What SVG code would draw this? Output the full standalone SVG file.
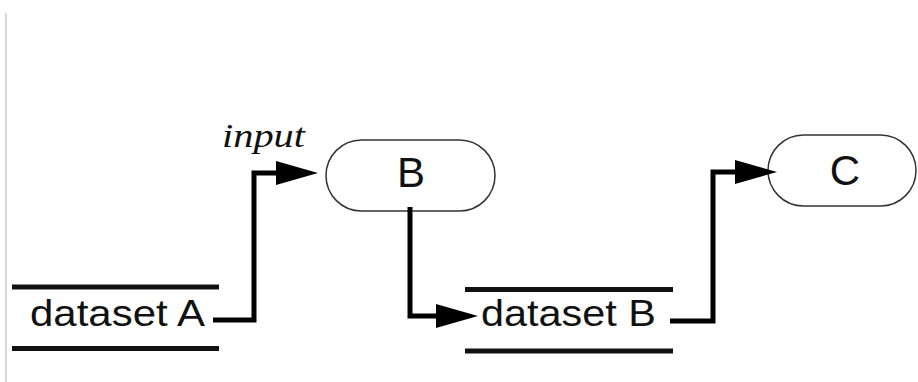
<svg xmlns="http://www.w3.org/2000/svg" width="918" height="382" viewBox="0 0 918 382">
  <style>
    .bar { stroke: #111; stroke-width: 5; fill: none; }
    .pill { fill: #fff; stroke: #333; stroke-width: 1.5; }
    .lbl { font-family: "Liberation Sans", Arial, sans-serif; fill: #111; }
    .conn { stroke: #000; stroke-width: 5; fill: none; stroke-linejoin: miter; }
    .note { font-family: "Liberation Serif", "Times New Roman", serif; font-style: italic; fill: #111; }
  </style>
  <defs>
    <marker id="arrow" viewBox="0 0 42 24" refX="0" refY="12" markerWidth="42" markerHeight="24" markerUnits="userSpaceOnUse" orient="auto">
      <path d="M0,0 L42,12 L0,24 z" fill="#000"/>
    </marker>
  </defs>
  <rect x="0" y="0" width="918" height="382" fill="#fff"/>
  <line x1="6" y1="13" x2="6" y2="382" stroke="#c8c8c8" stroke-width="1.5"/>

  <g id="datasetA">
    <line class="bar" x1="12" y1="287" x2="219" y2="287"/>
    <line class="bar" x1="12" y1="348.5" x2="219" y2="348.5"/>
    <text class="lbl" x="30" y="326" font-size="37" textLength="175" lengthAdjust="spacingAndGlyphs">dataset A</text>
  </g>

  <g id="nodeB">
    <rect class="pill" x="326" y="140" width="169" height="71" rx="35.5" ry="35.5"/>
    <text class="lbl" x="411" y="187" font-size="42" text-anchor="middle">B</text>
  </g>

  <g id="datasetB">
    <line class="bar" x1="465" y1="289.5" x2="673" y2="289.5"/>
    <line class="bar" x1="465" y1="351" x2="673" y2="351"/>
    <text class="lbl" x="481" y="326" font-size="37" textLength="175" lengthAdjust="spacingAndGlyphs">dataset B</text>
  </g>

  <g id="nodeC">
    <rect class="pill" x="768" y="135" width="148" height="71" rx="35.5" ry="35.5"/>
    <text class="lbl" x="845" y="185" font-size="42" text-anchor="middle">C</text>
  </g>

  <g id="connectors">
    <path class="conn" d="M213,320 H254 V173 H276" marker-end="url(#arrow)"/>
    <text class="note" x="222" y="147" font-size="34" textLength="83" lengthAdjust="spacingAndGlyphs">input</text>
    <path class="conn" d="M410,207 V316 H436" marker-end="url(#arrow)"/>
    <path class="conn" d="M670,321 H713 V172 H735" marker-end="url(#arrow)"/>
  </g>
</svg>
